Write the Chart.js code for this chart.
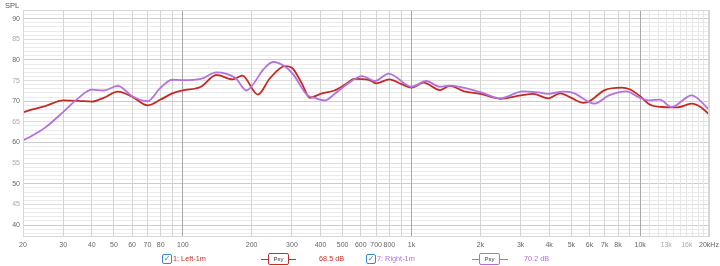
<!DOCTYPE html>
<html>
<head>
<meta charset="utf-8">
<script src="https://cdn.jsdelivr.net/npm/chart.js@4/dist/chart.umd.min.js"></script>
<style>
  body { margin: 0; background: #fff; font-family: "Liberation Sans", Arial, sans-serif; }
  #wrap { position: relative; width: 720px; height: 266px; }
  #spl { position: absolute; left: 5px; top: 1px; font-size: 7.5px; color: #555; }
  .lg { position: absolute; top: 253px; font-size: 7.3px; line-height: 12px; white-space: nowrap; }
  .cb { position: absolute; top: 254px; width: 8px; height: 8px; border: 1px solid #3a86d0; border-radius: 2px;
        font-size: 8px; line-height: 8px; text-align: center; color: #3a86d0; font-family: "DejaVu Sans", sans-serif; }
  .ln { position: absolute; top: 259px; height: 0; border-top: 1.5px solid; }
  .bx { position: absolute; top: 253px; width: 19px; height: 10px; border: 1.5px solid; border-radius: 2px; background: #fff;
        font-size: 6px; line-height: 10px; text-align: center; color: #444; }
</style>
</head>
<body>
<div id="wrap">
  <canvas id="chart" width="720" height="266"></canvas>
  <div id="spl">SPL</div>

  <div class="cb" style="left:162px">&#10003;</div>
  <div class="lg" style="left:173px;color:#c0302a">1: Left-1m</div>
  <div class="ln" style="left:261px;width:35px;border-color:#c0302a"></div>
  <div class="bx" style="left:268px;border-color:#c0302a">Psy</div>
  <div class="lg" style="left:319px;color:#c0302a">68.5 dB</div>

  <div class="cb" style="left:366px">&#10003;</div>
  <div class="lg" style="left:377px;color:#b070d8">7: Right-1m</div>
  <div class="ln" style="left:472px;width:36px;border-color:#b070d8"></div>
  <div class="bx" style="left:479px;border-color:#b070d8">Psy</div>
  <div class="lg" style="left:524px;color:#b070d8">70.2 dB</div>
</div>
<script>
// Left-1m (red)
const leftFreq = [20, 22, 25, 30, 35, 40, 45, 52, 60, 70, 80, 90, 100, 120, 140, 165, 182, 213, 240, 280, 300, 330, 360, 400, 460, 520, 560, 650, 700, 800, 900, 1000, 1130, 1330, 1470, 1700, 2000, 2440, 3000, 3400, 3970, 4470, 5000, 5650, 6000, 7000, 8300, 9000, 10000, 11000, 12500, 14500, 16800, 18500, 20000];
const leftSpl = [67.3, 68.0, 68.8, 70.2, 70.1, 69.9, 70.8, 72.3, 71.1, 69.0, 70.4, 71.9, 72.6, 73.5, 76.4, 75.3, 76.2, 71.6, 75.5, 78.5, 78.1, 74.5, 70.8, 71.8, 72.6, 74.3, 75.4, 75.2, 74.3, 75.3, 74.2, 73.3, 74.5, 72.7, 73.7, 72.4, 71.8, 70.6, 71.4, 71.8, 70.7, 71.9, 70.8, 69.6, 70.0, 72.7, 73.3, 72.9, 71.2, 69.2, 68.6, 68.5, 69.4, 68.5, 66.8];

// Right-1m (purple)
const rightFreq = [20, 22, 25, 30, 35, 40, 45, 52, 60, 70, 80, 90, 100, 120, 140, 170, 190, 203, 225, 248, 280, 304, 348, 378, 418, 462, 522, 609, 692, 795, 1000, 1160, 1330, 1470, 2000, 2440, 3070, 3500, 3970, 4600, 5100, 6300, 7300, 8700, 10000, 11000, 12200, 13700, 16800, 20000];
const rightSpl = [60.5, 61.7, 63.6, 67.4, 70.8, 72.8, 72.6, 73.7, 71.2, 70.0, 73.3, 75.2, 75.1, 75.4, 77.0, 75.6, 72.6, 74.1, 77.7, 79.5, 78.4, 76.5, 71.6, 70.8, 70.2, 71.8, 74.1, 76.1, 74.9, 76.7, 73.5, 74.9, 73.5, 73.8, 72.2, 70.7, 72.4, 72.2, 71.8, 72.3, 72.0, 69.4, 71.4, 72.4, 70.8, 70.2, 70.4, 68.6, 71.4, 68.0];

const freqTicks = [20, 30, 40, 50, 60, 70, 80, 90, 100, 200, 300, 400, 500, 600, 700, 800, 900,
  1000, 2000, 3000, 4000, 5000, 6000, 7000, 8000, 9000, 10000,
  11000, 12000, 13000, 14000, 15000, 16000, 17000, 18000, 19000, 20000];
const freqLabels = {20: '20', 30: '30', 40: '40', 50: '50', 60: '60', 70: '70', 80: '80', 100: '100',
  200: '200', 300: '300', 400: '400', 500: '500', 600: '600', 700: '700', 800: '800', 1000: '1k',
  2000: '2k', 3000: '3k', 4000: '4k', 5000: '5k', 6000: '6k', 7000: '7k', 8000: '8k', 10000: '10k',
  13000: '13k', 16000: '16k', 20000: '20kHz'};

const toPoints = (fs, vs) => fs.map((f, i) => ({x: f, y: vs[i]}));
const tickFont = {size: 7, family: '"Liberation Sans", Arial, sans-serif'};

const frame = {
  id: 'frame',
  afterDraw(chart) {
    const {ctx, chartArea: a} = chart;
    ctx.save();
    ctx.strokeStyle = '#d8d8d8';
    ctx.lineWidth = 1;
    ctx.strokeRect(a.left + 0.5, a.top + 0.5, a.right - a.left - 1, a.bottom - a.top - 1);
    ctx.restore();
  }
};

new Chart(document.getElementById('chart'), {
  type: 'line',
  data: {
    datasets: [
      {label: '7: Right-1m', data: toPoints(rightFreq, rightSpl), borderColor: '#b472dc', borderWidth: 1.8,
       pointRadius: 0, cubicInterpolationMode: 'monotone'},
      {label: '1: Left-1m', data: toPoints(leftFreq, leftSpl), borderColor: '#c42a24', borderWidth: 1.8,
       pointRadius: 0, cubicInterpolationMode: 'monotone'}
    ]
  },
  options: {
    responsive: false,
    animation: false,
    devicePixelRatio: 1,
    layout: {padding: {top: 10, right: 11, left: 0, bottom: 0}},
    plugins: {legend: {display: false}, tooltip: {enabled: false}},
    scales: {
      x: {
        type: 'logarithmic', min: 20, max: 20000,
        afterBuildTicks: s => { s.ticks = freqTicks.map(v => ({value: v})); },
        afterFit: s => { s.height = 29; s.paddingLeft = 0; s.paddingRight = 0; },
        ticks: {
          autoSkip: false, maxRotation: 0, padding: 4,
          callback: v => freqLabels[v] || '',
          font: tickFont,
          color: c => (c.tick.value === 13000 || c.tick.value === 16000) ? '#aaa' : '#666'
        },
        grid: {
          drawTicks: false,
          color: c => {
            const v = c.tick.value;
            if (v === 100 || v === 1000 || v === 10000) return '#a8a8a8';
            if (v > 10000 && v < 20000) return '#e6e6e6';
            return '#d4d4d4';
          }
        },
        border: {display: false}
      },
      y: {
        min: 37.1, max: 92.1,
        afterBuildTicks: s => { const t = []; for (let v = 38; v <= 92; v++) t.push({value: v}); s.ticks = t; },
        afterFit: s => { s.width = 23; s.paddingTop = 0; s.paddingBottom = 0; },
        ticks: {
          autoSkip: false, padding: 3,
          callback: v => v % 5 === 0 ? String(v) : '',
          font: tickFont,
          color: c => c.tick.value % 10 === 0 ? '#666' : '#aaa'
        },
        grid: {
          z: -2,
          drawTicks: false,
          color: c => {
            const v = c.tick.value;
            if (v % 10 === 0) return '#cdcdcd';
            if (v % 5 === 0) return '#dedede';
            return '#ebebeb';
          }
        },
        border: {display: false}
      }
    }
  },
  plugins: [frame]
});
</script>
</body>
</html>
